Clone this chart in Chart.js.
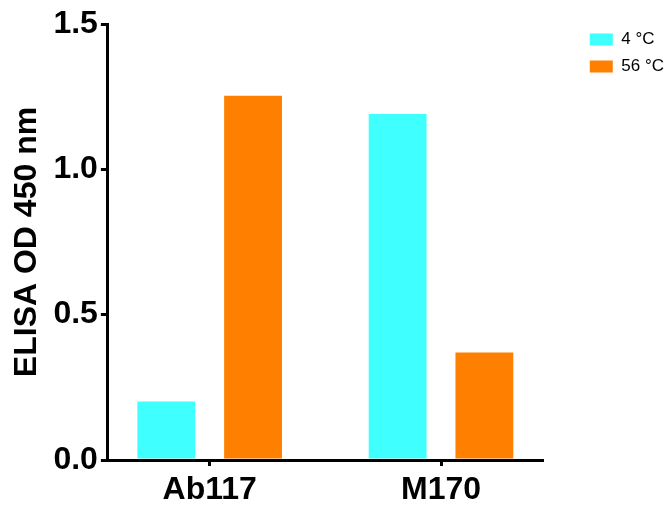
<!DOCTYPE html>
<html>
<head>
<meta charset="utf-8">
<script src="https://cdn.jsdelivr.net/npm/chart.js@4/dist/chart.umd.min.js"></script>
<style>
  html, body { margin: 0; padding: 0; background: #fff; }
  #wrap { width: 670px; height: 505px; position: relative; }
</style>
</head>
<body>
<div id="wrap"><canvas id="c"></canvas></div>
<script>
const categories = ['Ab117', 'M170'];
const seriesLabels = ['4 °C', '56 °C'];
const values4C = [0.2015, 1.190];
const values56C = [1.253, 0.370];
const yTicks = [0, 0.5, 1.0, 1.5];
const yTitle = 'ELISA OD 450 nm';

const FONT = "'Liberation Sans', Arial, Helvetica, sans-serif";
const toPoints = arr => arr.map((v, i) => ({ x: i, y: v }));

const legendNudge = {
  id: 'legendNudge',
  afterLayout(chart) {
    const lg = chart.legend;
    if (lg) { lg.top -= 3; lg.bottom -= 3; lg.left += 4; lg.right += 4; }
  }
};

new Chart(document.getElementById('c'), {
  type: 'bar',
  plugins: [legendNudge],
  data: {
    datasets: [
      { label: seriesLabels[0], data: toPoints(values4C), backgroundColor: '#40FFFF', borderWidth: 0,
        categoryPercentage: 0.75, barPercentage: 0.6667 },
      { label: seriesLabels[1], data: toPoints(values56C), backgroundColor: '#FF8000', borderWidth: 0,
        categoryPercentage: 0.75, barPercentage: 0.6667 }
    ]
  },
  options: {
    responsive: true,
    maintainAspectRatio: false,
    animation: false,
    layout: { padding: { top: 24, left: 4, right: 0, bottom: 0 } },
    plugins: {
      tooltip: { enabled: false },
      legend: {
        position: 'right',
        align: 'start',
        labels: {
          boxWidth: 23,
          boxHeight: 12,
          padding: 10,
          color: '#000',
          font: { family: FONT, size: 17 }
        }
      }
    },
    scales: {
      x: {
        type: 'linear',
        min: -0.44,
        max: 1.44,
        offset: false,
        afterBuildTicks: s => { s.ticks = categories.map((c, i) => ({ value: i })); },
        afterFit: s => { s.height = 45; },
        ticks: {
          callback: v => categories[v],
          color: '#000',
          padding: 5,
          maxRotation: 0,
          autoSkip: false,
          font: { family: FONT, size: 32, weight: 'bold' }
        },
        grid: { display: true, offset: false, drawOnChartArea: false, drawTicks: true, tickLength: 6, color: '#000', lineWidth: 3 },
        border: { display: true, color: '#000', width: 3 }
      },
      y: {
        type: 'linear',
        min: 0,
        max: 1.5,
        afterBuildTicks: s => { s.ticks = yTicks.map(v => ({ value: v })); },
        ticks: {
          callback: v => v.toFixed(1),
          color: '#000',
          padding: 3,
          font: { family: FONT, size: 32, weight: 'bold' }
        },
        grid: { display: true, drawOnChartArea: false, drawTicks: true, tickLength: 7, color: '#000', lineWidth: 3 },
        border: { display: true, color: '#000', width: 3 },
        title: {
          display: true,
          text: yTitle,
          color: '#000',
          padding: { top: 4, bottom: 4 },
          font: { family: FONT, size: 32, weight: 'bold' }
        }
      },
      spacer: {
        type: 'linear',
        position: 'right',
        display: true,
        grid: { display: false },
        border: { display: false },
        ticks: { display: false },
        afterFit: s => { s.width = 33; }
      }
    }
  }
});
</script>
</body>
</html>
